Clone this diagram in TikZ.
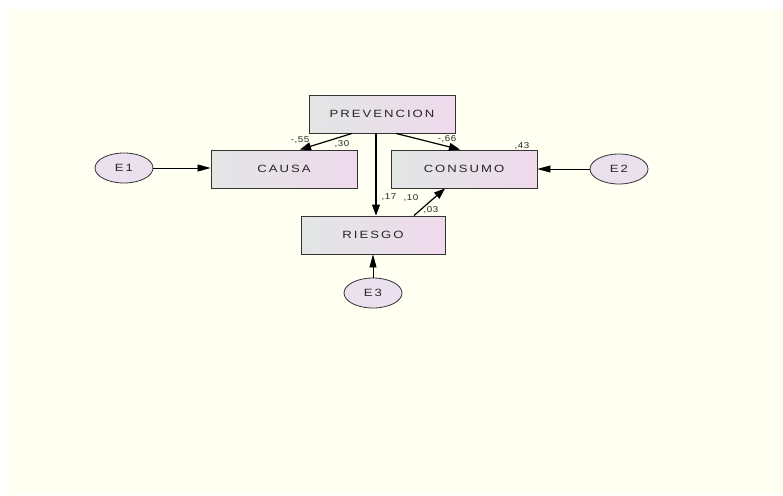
\documentclass[tikz,border=0pt]{standalone}
\usepackage{fontspec}
\setmainfont{Liberation Sans}
\newfontfamily\amosfont[FakeStretch=1.25,LetterSpace=19]{Liberation Sans}
\newfontfamily\coeffont[FakeStretch=1.15,LetterSpace=6]{Liberation Sans}
\usetikzlibrary{arrows.meta,shapes.geometric}

\definecolor{paper}{HTML}{FFFFF2}
\definecolor{boxleft}{HTML}{E2E6E5}
\definecolor{boxright}{HTML}{EFDAEC}
\definecolor{errfill}{HTML}{EBE0EE}

\tikzset{
  obs/.style={draw=black!80,line width=0.9pt,minimum width=146pt,minimum height=38pt,
    left color=boxleft,right color=boxright,inner sep=0pt,text=black!85,
    font=\amosfont\fontsize{10.5}{11}\selectfont},
  err/.style={ellipse,draw=black!80,line width=0.8pt,fill=errfill,minimum width=58pt,minimum height=30pt,
    inner sep=0pt,text=black!85,font=\amosfont\fontsize{10.5}{11}\selectfont},
  path/.style={line width=1.2pt,-{Triangle[length=11pt,width=8pt]}},
  errpath/.style={line width=0.7pt,-{Triangle[length=13pt,width=7pt]}},
  coef/.style={inner sep=0pt,font=\coeffont\fontsize{8.5}{9}\selectfont,text=black!85}
}

\begin{document}
\begin{tikzpicture}[x=1pt,y=-1pt]
\useasboundingbox (0,0) rectangle (783,495);
\fill[paper] (6,9) rectangle (783,495);
% variables
\node[obs] (prev) at (382,114) {PREVENCION};
\node[obs] (causa) at (284,169) {CAUSA};
\node[obs] (consumo) at (464,169) {CONSUMO};
\node[obs,minimum width=144pt] (riesgo) at (373,235) {RIESGO};
\node[err] (e1) at (124,168) {E1};
\node[err] (e2) at (619,169) {E2};
\node[err] (e3) at (373,293) {E3};
% paths
\draw[path] (prev.south -| 352,0) -- (causa.north -| 300,0);
\draw[path] (prev.south -| 396,0) -- (consumo.north -| 460,0);
\draw[path] (prev.south -| 376,0) -- (riesgo.north -| 376,0);
\draw[path] (riesgo.north -| 414,0) -- (consumo.south -| 445,0);
\draw[errpath] (e1) -- (causa.west |- e1);
\draw[errpath] (e2) -- (consumo.east |- e2);
\draw[errpath] (e3) -- (riesgo);
% estimates
\node[coef] (c1) at (300,140) {-,55};
\node[coef] (c2) at (342,144) {,30};
\node[coef] (c3) at (447,139) {-,66};
\node[coef] (c4) at (522,146) {,43};
\node[coef] (c5) at (389,197) {,17};
\node[coef] (c6) at (411,198) {,10};
\node[coef] (c7) at (431,210) {,03};
\end{tikzpicture}
\end{document}
